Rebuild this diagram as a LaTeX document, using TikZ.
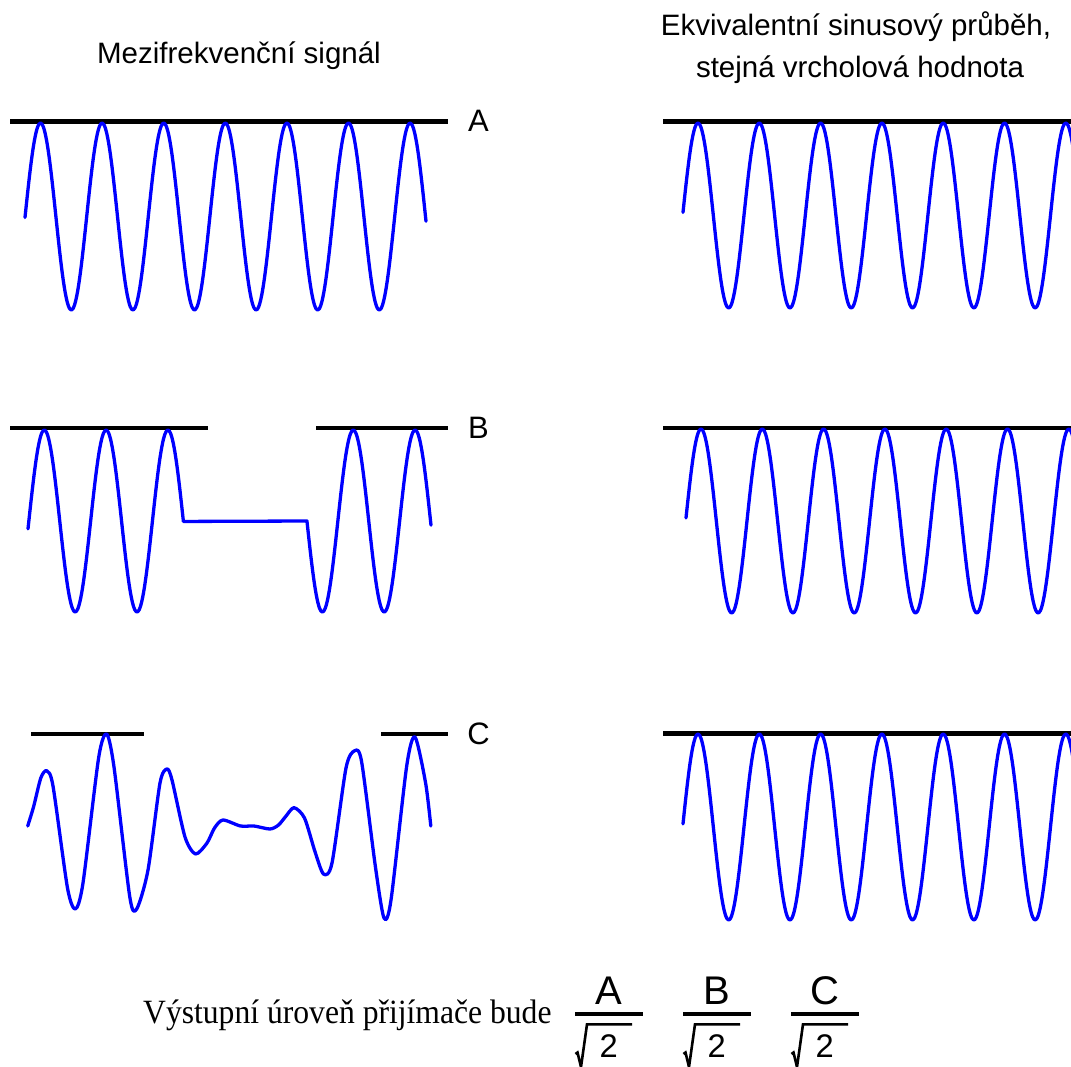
\documentclass[tikz,border=0pt]{standalone}
\usepackage{fontspec}
\setmainfont{Liberation Serif}
\setsansfont{Liberation Sans}
\begin{document}
\begin{tikzpicture}[x=1pt,y=-1pt,
  refline/.style={line width=4.1pt, black},
  wave/.style={draw=blue, line width=3.3pt, line join=round, line cap=round},
  ttl/.style={font=\sffamily\fontsize{29.5}{34}\selectfont, inner sep=0pt, anchor=base},
  lbl/.style={font=\sffamily\fontsize{31}{35}\selectfont, inner sep=0pt},
  num/.style={font=\sffamily\fontsize{40}{44}\selectfont, inner sep=0pt, anchor=base},
  bar/.style={line width=3.6pt, black},
  rad/.style={line width=2.6pt, black, line join=miter}
]
\useasboundingbox (0,0) rectangle (1071,1066);
\clip (0,0) rectangle (1071,1066);

% titles
\node[ttl] (tL) at (239,63.3) {Mezifrekvenční signál};
\node[ttl] (tR1) at (856,35) {Ekvivalentní sinusový průběh,};
\node[ttl] (tR2) at (860,77.3) {stejná vrcholová hodnota};

% reference lines
\draw[refline] (10,121.5) -- (448,121.5);
\draw[refline] (663,121.5) -- (1071,121.5);
\draw[refline] (10,428) -- (208,428);
\draw[refline] (316,428) -- (448,428);
\draw[refline] (663,428) -- (1071,428);
\draw[refline] (31,734) -- (144,734);
\draw[refline] (381,734) -- (448,734);
\draw[refline] (663,733.5) -- (1071,733.5);

% labels
\node[lbl] (lA) at (478.5,121) {A};
\node[lbl] (lB) at (478.5,428) {B};
\node[lbl] (lC) at (478.5,734) {C};

% row A
\draw[wave] plot[domain=25:426, samples=260, smooth] (\x,{216.5-93.5*cos((\x-40.5)/61.6*360)});
\draw[wave] plot[domain=683:1075, samples=260, smooth] (\x,{215.5-92.5*cos((\x-698)/61.3*360)});

% row B
\draw[wave] plot[domain=28:183.4, samples=110, smooth] (\x,{521-91*cos((\x-44.3)/61.8*360)})
  -- (307,521) -- plot[domain=307:431, samples=90, smooth] (\x,{521-91*cos((\x-44.3)/61.8*360)});
\draw[wave] plot[domain=686:1075, samples=260, smooth] (\x,{521-92*cos((\x-701)/61.3*360)});

% row C
\draw[wave] plot[smooth, tension=0.45] coordinates {
  (27.7,826) (33.6,806.7) (40.8,778) (46.7,770.7) (53,786) (67.5,888) (75.4,909)
  (83,883) (98.6,758) (106.6,734) (114,767) (129.8,897) (136.7,909) (148,870)
  (160,783) (167,769) (172,780) (185,837) (195.5,854) (207,843) (214.5,828)
  (223,820) (240.5,826) (254,826) (270,829) (278.5,825) (285.5,816.7) (294,807.7)
  (304.5,818) (315,851.7) (323.5,874) (332,863) (346,768) (354.7,750.7) (361.6,761.7)
  (375.4,866.7) (384,918) (391,900) (406.6,766.7) (415,737) (425.6,783) (430.8,826)};
\draw[wave] plot[domain=683:1075, samples=260, smooth] (\x,{827-93*cos((\x-698)/61.3*360)});

% bottom formula
\node[inner sep=0pt, anchor=base west] (out) at (143,1023)
  {\fontsize{34}{38}\selectfont\scalebox{0.93}[1]{Výstupní úroveň přijímače bude}};
\foreach \n/\L/\dx in {fA/A/0, fB/B/108, fC/C/216}{
  \node[num] (\n) at ({609+\dx},1004.3) {\L};
  \draw[bar] ({575+\dx},1013.7) -- ({643.3+\dx},1013.7);
  \draw[rad] ({575.5+\dx},1054) -- ({577.5+\dx},1052.5) -- ({581+\dx},1067) -- ({587+\dx},1024.3) -- ({632+\dx},1024.3);
  \node[num, font=\sffamily\fontsize{32.7}{36}\selectfont] (\n2) at ({608.7+\dx},1057.7) {2};
}
\end{tikzpicture}
\end{document}
